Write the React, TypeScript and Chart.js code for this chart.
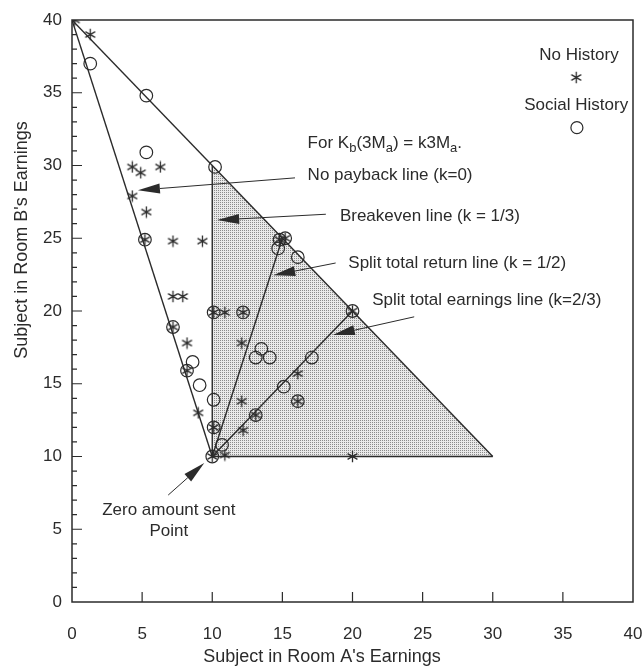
import React, { useEffect, useRef } from "react";
import { Chart, registerables } from "chart.js";

Chart.register(...registerables);

// ---------- data (Room A earnings, Room B earnings) ----------
const noHistory: [number, number][] = [
  [0.2, 40], [1.3, 39], [4.3, 29.9], [4.9, 29.5], [6.3, 29.9], [4.3, 27.9],
  [5.3, 26.8], [5.2, 24.9], [7.2, 24.8], [9.3, 24.8], [7.2, 21], [7.9, 21],
  [7.2, 18.9], [8.2, 17.8], [8.2, 15.9], [9.0, 13.0], [10.1, 12], [10, 10],
  [10.9, 10.1], [10.1, 19.9], [10.9, 19.9], [12.2, 19.9], [12.1, 17.8],
  [12.1, 13.8], [12.2, 11.8], [13.1, 12.85], [16.1, 15.7], [16.1, 13.8],
  [20, 20], [20, 10], [14.8, 24.9], [15.2, 25],
];

const socialHistory: [number, number][] = [
  [1.3, 37], [5.3, 34.8], [5.3, 30.9], [10.2, 29.9], [5.2, 24.9], [7.2, 18.9],
  [8.6, 16.5], [8.2, 15.9], [9.1, 14.9], [10.1, 13.9], [10.1, 12], [10, 10],
  [10.7, 10.8], [10.1, 19.9], [12.2, 19.9], [13.1, 16.8], [13.5, 17.4],
  [14.1, 16.8], [13.1, 12.85], [15.1, 14.8], [16.1, 13.8], [17.1, 16.8],
  [20, 20], [14.8, 24.9], [15.2, 25], [14.7, 24.3], [16.1, 23.7],
];

const frontierLine: [number, number][] = [[0, 40], [30, 10]];
const noPaybackLine: [number, number][] = [[0, 40], [10, 10]];
const baseLine: [number, number][] = [[10, 10], [30, 10]];
const breakevenLine: [number, number][] = [[10, 10], [10, 30]];
const splitReturnLine: [number, number][] = [[10, 10], [15, 25]];
const splitEarningsLine: [number, number][] = [[10, 10], [20, 20]];
const shadedRegion: [number, number][] = [[10, 10], [10, 30], [30, 10], [10, 10]];

const xTickLabels = [0, 5, 10, 15, 20, 25, 30, 35, 40];
const yTickLabels = [0, 5, 10, 15, 20, 25, 30, 35, 40];

const xTitle = "Subject in Room A's Earnings";
const yTitle = "Subject in Room B's Earnings";
const legendLabels = ["No History", "Social History"];
const lineLabels = [
  "No payback line (k=0)",
  "Breakeven line (k = 1/3)",
  "Split total return line (k = 1/2)",
  "Split total earnings line (k=2/3)",
];
const zeroLabels = ["Zero amount sent", "Point"];

// ---------- styling / layout ----------
const INK = "#2b2b2b";
const FONT = '"Liberation Sans", Arial, Helvetica, sans-serif';
const W = 642;
const H = 670;

// annotation anchors (data coords): text left, arrow tail, arrow tip
const arrows = [
  { text: 0, tx: 16.8, ty: 29.3, from: [15.9, 29.15], to: [4.7, 28.3] },
  { text: 1, tx: 19.1, ty: 26.5, from: [18.1, 26.65], to: [10.35, 26.25] },
  { text: 2, tx: 19.7, ty: 23.3, from: [18.8, 23.3], to: [14.35, 22.45] },
  { text: 3, tx: 21.4, ty: 20.75, from: [24.4, 19.6], to: [18.6, 18.35] },
];
const zeroArrow = { from: [6.86, 7.35], to: [9.43, 9.55] };

const toXY = (arr: [number, number][]) => arr.map(([x, y]) => ({ x, y }));

function makeAsterisk(size: number): HTMLCanvasElement {
  const c = document.createElement("canvas");
  c.width = size;
  c.height = size;
  const g = c.getContext("2d")!;
  const r = size / 2 - 0.8;
  g.strokeStyle = INK;
  g.lineWidth = 1.3;
  g.beginPath();
  for (const deg of [90, 30, 150]) {
    const a = (deg * Math.PI) / 180;
    g.moveTo(size / 2 - r * Math.cos(a), size / 2 - r * Math.sin(a));
    g.lineTo(size / 2 + r * Math.cos(a), size / 2 + r * Math.sin(a));
  }
  g.stroke();
  return c;
}

function makeDots(): CanvasPattern {
  const c = document.createElement("canvas");
  c.width = 2;
  c.height = 2;
  const g = c.getContext("2d")!;
  g.fillStyle = "#e9e9e9";
  g.fillRect(0, 0, 2, 2);
  g.fillStyle = "#8a8a8a";
  g.fillRect(0, 0, 1, 1);
  return g.createPattern(c, "repeat")!;
}

function drawArrow(ctx: CanvasRenderingContext2D, x0: number, y0: number, x1: number, y1: number) {
  const ang = Math.atan2(y1 - y0, x1 - x0);
  const len = 22;
  const hw = 5;
  const bx = x1 - len * Math.cos(ang);
  const by = y1 - len * Math.sin(ang);
  ctx.beginPath();
  ctx.moveTo(x0, y0);
  ctx.lineTo(bx, by);
  ctx.lineWidth = 1;
  ctx.stroke();
  ctx.beginPath();
  ctx.moveTo(x1, y1);
  ctx.lineTo(bx + hw * Math.sin(ang), by - hw * Math.cos(ang));
  ctx.lineTo(bx - hw * Math.sin(ang), by + hw * Math.cos(ang));
  ctx.closePath();
  ctx.fill();
}

export default function App() {
  const ref = useRef<HTMLCanvasElement>(null);

  useEffect(() => {
    if (!ref.current) return;
    const prevMargin = document.body.style.margin;
    document.body.style.margin = "0";
    const star = makeAsterisk(13);
    const dots = makeDots();

    const overlay = {
      id: "overlay",
      afterDatasetsDraw(chart: any) {
        const { ctx, chartArea: a } = chart;
        const xs = chart.scales.x;
        const ys = chart.scales.y;
        const px = (v: number) => xs.getPixelForValue(v);
        const py = (v: number) => ys.getPixelForValue(v);
        ctx.save();
        ctx.strokeStyle = INK;
        ctx.fillStyle = INK;

        // frame
        ctx.lineWidth = 1.5;
        ctx.strokeRect(a.left, a.top, a.right - a.left, a.bottom - a.top);

        // inward tick marks
        ctx.lineWidth = 1.2;
        ctx.beginPath();
        for (const v of xTickLabels) {
          if (v === 0 || v === 40) continue;
          ctx.moveTo(px(v), a.bottom);
          ctx.lineTo(px(v), a.bottom - 10);
        }
        for (let v = 1; v < 40; v++) {
          const l = v % 5 === 0 ? 10 : 5;
          ctx.moveTo(a.left, py(v));
          ctx.lineTo(a.left + l, py(v));
        }
        ctx.stroke();

        // arrows & labels
        ctx.font = `17px ${FONT}`;
        ctx.textBaseline = "middle";
        ctx.textAlign = "left";
        for (const ar of arrows) {
          drawArrow(ctx, px(ar.from[0]), py(ar.from[1]), px(ar.to[0]), py(ar.to[1]));
          ctx.fillText(lineLabels[ar.text], px(ar.tx), py(ar.ty));
        }
        drawArrow(ctx, px(zeroArrow.from[0]), py(zeroArrow.from[1]), px(zeroArrow.to[0]), py(zeroArrow.to[1]));
        ctx.textAlign = "center";
        ctx.fillText(zeroLabels[0], px(6.9), py(6.3));
        ctx.fillText(zeroLabels[1], px(6.9), py(4.85));

        // formula
        ctx.textAlign = "left";
        let fx = px(16.8);
        const fy = py(31.55);
        const parts: [string, boolean][] = [
          ["For K", false], ["b", true], ["(3M", false], ["a", true],
          [") = k3M", false], ["a", true], [".", false],
        ];
        for (const [t, sub] of parts) {
          ctx.font = sub ? `13px ${FONT}` : `17px ${FONT}`;
          ctx.fillText(t, fx, sub ? fy + 5 : fy);
          fx += ctx.measureText(t).width;
        }

        // legend
        ctx.font = `17px ${FONT}`;
        ctx.textAlign = "center";
        ctx.fillText(legendLabels[0], px(36.15), py(37.6));
        ctx.drawImage(star, px(35.95) - 6.5, py(36.05) - 6.5);
        ctx.fillText(legendLabels[1], px(35.95), py(34.15));
        ctx.beginPath();
        ctx.lineWidth = 1.2;
        ctx.arc(px(36.0), py(32.6), 6, 0, Math.PI * 2);
        ctx.stroke();

        // axis titles
        ctx.font = `18px ${FONT}`;
        ctx.textAlign = "center";
        ctx.fillText(xTitle, a.left + 250, a.bottom + 55);
        ctx.translate(a.left - 50, a.top + 220);
        ctx.rotate(-Math.PI / 2);
        ctx.fillText(yTitle, 0, 0);
        ctx.restore();
      },
    };

    const lineDs = (data: [number, number][], label: string) => ({
      type: "line" as const,
      label,
      data: toXY(data),
      showLine: true,
      borderColor: INK,
      borderWidth: 1.4,
      pointRadius: 0,
      fill: false,
    });

    const chart = new Chart(ref.current, {
      type: "scatter",
      data: {
        datasets: [
          {
            label: legendLabels[0],
            data: toXY(noHistory),
            pointStyle: star as any,
            pointRadius: 6,
            borderColor: INK,
            backgroundColor: INK,
          },
          {
            label: legendLabels[1],
            data: toXY(socialHistory),
            pointStyle: "circle",
            pointRadius: 6.3,
            borderWidth: 1.2,
            borderColor: INK,
            backgroundColor: "rgba(0,0,0,0)",
          },
          lineDs(frontierLine, "frontier"),
          lineDs(noPaybackLine, lineLabels[0]),
          lineDs(baseLine, "base"),
          lineDs(breakevenLine, lineLabels[1]),
          lineDs(splitReturnLine, lineLabels[2]),
          lineDs(splitEarningsLine, lineLabels[3]),
          {
            type: "line" as const,
            label: "region",
            data: toXY(shadedRegion),
            showLine: true,
            borderColor: "rgba(0,0,0,0)",
            borderWidth: 0,
            pointRadius: 0,
            backgroundColor: dots as any,
            fill: "shape",
          },
        ] as any,
      },
      options: {
        animation: false,
        responsive: false,
        maintainAspectRatio: false,
        layout: { padding: { top: 20, right: 9, left: 8, bottom: 0 } },
        plugins: {
          legend: { display: false },
          tooltip: { enabled: false },
          title: { display: false },
        },
        scales: {
          x: {
            type: "linear",
            min: 0,
            max: 40,
            afterBuildTicks: (s: any) => {
              s.ticks = xTickLabels.map((v) => ({ value: v }));
            },
            afterFit: (s: any) => {
              s.height = 68;
              s.paddingLeft = 0;
              s.paddingRight = 0;
            },
            grid: { display: true, drawOnChartArea: false, drawTicks: false },
            border: { display: false },
            ticks: {
              padding: 22,
              color: INK,
              font: { family: FONT, size: 17 },
              maxRotation: 0,
              autoSkip: false,
            },
          },
          y: {
            type: "linear",
            min: 0,
            max: 40,
            afterBuildTicks: (s: any) => {
              s.ticks = yTickLabels.map((v) => ({ value: v }));
            },
            afterFit: (s: any) => {
              s.width = 64;
              s.paddingTop = 0;
              s.paddingBottom = 0;
            },
            grid: { display: true, drawOnChartArea: false, drawTicks: false },
            border: { display: false },
            ticks: {
              padding: 10,
              color: INK,
              font: { family: FONT, size: 17 },
              autoSkip: false,
            },
          },
        },
      },
      plugins: [overlay],
    });
    return () => {
      chart.destroy();
      document.body.style.margin = prevMargin;
    };
  }, []);

  return (
    <div style={{ width: W, height: H }}>
      <canvas ref={ref} width={W} height={H} style={{ display: "block" }} />
    </div>
  );
}
